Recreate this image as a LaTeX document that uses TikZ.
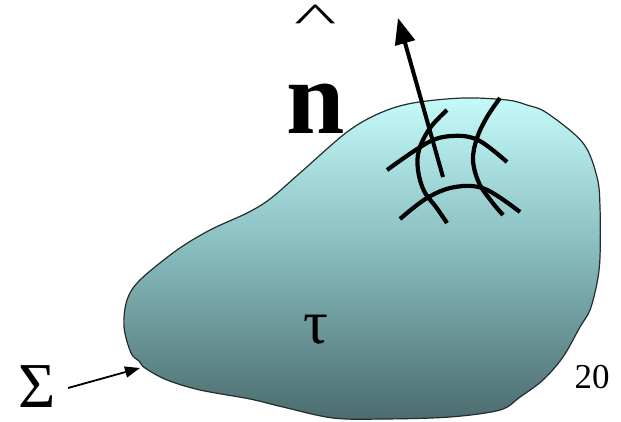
\documentclass[tikz,border=0pt]{standalone}
\usepackage{fontspec}
\setmainfont{Liberation Serif}
\usetikzlibrary{arrows.meta}
\definecolor{blobtop}{RGB}{196,250,250}
\definecolor{blobmid}{RGB}{132,184,186}
\definecolor{blobbot}{RGB}{76,108,110}
\definecolor{edgecol}{RGB}{35,45,45}
\begin{document}
\begin{tikzpicture}[x=1pt,y=-1pt,
  gridline/.style={line width=4.2pt},
  label/.style={inner sep=0pt, outer sep=0pt, anchor=base}]
\useasboundingbox (0,0) rectangle (621,421);
% body
\path[draw=edgecol, line width=1.2pt, top color=blobtop, bottom color=blobbot, middle color=blobmid]
  plot[smooth cycle, tension=0.55] coordinates {
  (347,132) (380,113) (413,103) (463,98) (507,100) (527,105) (547,113)
  (583,143) (597,177) (600,207) (600,257) (597,283) (590,310) (580,327)
  (563,357) (543,380) (520,397) (500,410) (450,417) (383,419) (333,418)
  (283,407) (250,399) (200,390) (167,380) (145,368) (139,361) (131,353)
  (124,327) (127,300) (140,280) (177,250) (210,230) (247,213) (270,199)
  (300,173)};
% curvilinear grid
\draw[gridline] plot[smooth, tension=0.6] coordinates {(387,170) (427,143) (452,136) (478,140) (507,162)};
\draw[gridline] plot[smooth, tension=0.6] coordinates {(400,219) (427,198) (455,187) (485,189) (520,212)};
\draw[gridline] plot[smooth, tension=0.6] coordinates {(447,110) (430,128) (419,150) (418,170) (424,191) (436,207) (447,223)};
\draw[gridline] plot[smooth, tension=0.6] coordinates {(500,98) (487,117) (477,138) (473,160) (479,183) (492,202) (503,215)};
% normal vector
\coordinate (nbase) at (443,177);
\coordinate (ntip) at (398,18);
\draw[line width=4pt, -{Triangle[length=26pt,width=20pt]}] (nbase) -- (ntip);
% labels
\node[label, font=\fontsize{90}{90}\selectfont] (hat) at (316,31) {\scalebox{1}[0.45]{\textasciicircum}};
\node[label, font=\fontsize{105}{105}\selectfont\bfseries] (n) at (316,133) {n};
\node[label, font=\fontsize{62}{62}\selectfont] (tau) at (316,343) {τ};
\node[label, font=\fontsize{64}{64}\selectfont] (sig) at (37,407) {Σ};
\node[label, font=\fontsize{35}{35}\selectfont] (num) at (592,388) {20};
% boundary pointer
\coordinate (sigfrom) at (68,388);
\coordinate (notch) at (140,368);
\draw[line width=1.8pt, -{Triangle[length=15pt,width=11pt]}] (sigfrom) -- (notch);
\end{tikzpicture}
\end{document}
